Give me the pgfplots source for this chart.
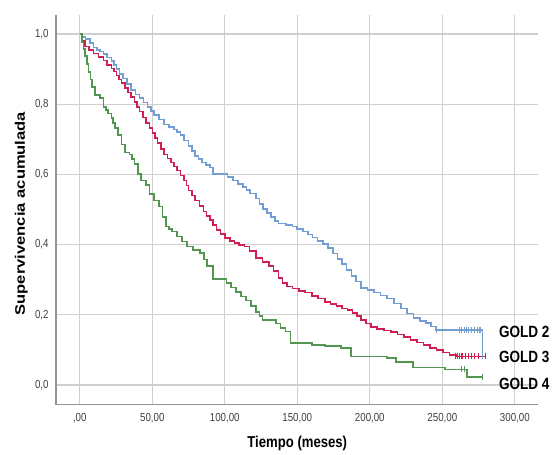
\documentclass[border=0pt]{standalone}
\usepackage{graphicx}
\usepackage{pgfplots}
\pgfplotsset{compat=1.18}
\usepackage{fontspec}
\setmainfont{Liberation Sans}

\definecolor{gold2}{RGB}{115,158,212}
\definecolor{gold3}{RGB}{208,32,82}
\definecolor{gold4}{RGB}{82,150,82}
% the source picture is stretched vertically by about 1.2
\newcommand{\vs}[1]{\scalebox{1}[1.2]{#1}}
\newcommand{\hs}[1]{\scalebox{1.2}[1]{#1}}

\begin{document}
\begin{tikzpicture}
\begin{axis}[
    scale only axis,
    width=352.8pt, height=285.1pt,
    xmin=-16.3, xmax=316.3,
    ymin=-0.056, ymax=1.055,
    xtick={0,50,100,150,200,250,300},
    xticklabels={{\vs{,00}},{\vs{50,00}},{\vs{100,00}},{\vs{150,00}},{\vs{200,00}},{\vs{250,00}},{\vs{300,00}}},
    ytick={0,0.2,0.4,0.6,0.8,1.0},
    yticklabels={{\vs{0,0}},{\vs{0,2}},{\vs{0,4}},{\vs{0,6}},{\vs{0,8}},{\vs{1,0}}},
    grid=major,
    grid style={color=gray!38, line width=0.9pt},
    axis x line*=bottom, axis y line*=left,
    axis line style={-, color=gray!85, line width=0.9pt},
    major tick length=0pt,
    tick label style={font=\fontsize{7.1}{8}\selectfont, color=black!75},
    xticklabel style={yshift=-3pt},
    yticklabel style={xshift=-2pt},
    xlabel={\vs{\textbf{Tiempo (meses)}}},
    ylabel={\hs{\textbf{Supervivencia acumulada}}},
    x label style={at={(axis description cs:0.5,-0.0985)}, anchor=center, font=\fontsize{9.6}{11}\selectfont},
    y label style={at={(axis description cs:-0.072,0.49)}, anchor=center, font=\fontsize{10.1}{12}\selectfont},
    clip=false,
]
% GOLD 2
\addplot[const plot mark left, color=gold2, line width=1.2pt] coordinates {
(0,1.000) (2,0.992) (4,0.985) (7,0.975) (9.5,0.962) (12,0.955) (14,0.950)
(16.3,0.943) (19,0.933) (21.9,0.924) (23.5,0.912) (25.3,0.901) (27.5,0.887)
(29.9,0.873) (32.5,0.857) (35.5,0.840) (38.5,0.828) (41.2,0.817) (44,0.805)
(46.8,0.793) (49,0.781) (51.4,0.770) (54.8,0.756) (58.2,0.742) (61.5,0.735)
(65.0,0.728) (67,0.720) (69.4,0.713) (72,0.697) (75.1,0.681) (77.5,0.667)
(79.6,0.653) (82,0.643) (84.2,0.634) (87,0.627) (89.8,0.620) (92.1,0.601)
(102,0.592) (105.7,0.583) (109,0.572) (112.5,0.564) (115,0.556) (117.5,0.546)
(121.5,0.531) (124,0.515) (126.2,0.502) (129,0.490) (132,0.478) (134.5,0.468)
(137.1,0.460) (142,0.455) (146.6,0.451) (150,0.445) (154,0.437) (157.5,0.429)
(160.5,0.420) (164,0.410) (167.7,0.401) (171,0.390) (174.5,0.375) (177.8,0.359)
(181,0.345) (184,0.328) (187.3,0.311) (190.5,0.295) (194.1,0.277) (198.5,0.270)
(203.0,0.263) (207.5,0.255) (211.8,0.246) (216.5,0.232) (221.3,0.218) (225.5,0.204)
(230.1,0.190) (234.5,0.183) (238.9,0.176) (242,0.166) (245.7,0.156) (277.6,0.081)
};
% GOLD 3
\addplot[const plot mark left, color=gold3, line width=1.2pt] coordinates {
(0,1.000) (2,0.980) (3.8,0.965) (6.5,0.955) (9.5,0.945) (13,0.935) (16.3,0.925)
(19,0.912) (21.9,0.902) (23.5,0.893) (25.3,0.882) (27,0.870) (28.7,0.860)
(31,0.846) (33.3,0.833) (35.5,0.820) (37.8,0.807) (39.5,0.793) (41.2,0.779)
(43.5,0.762) (45.7,0.746) (48,0.732) (50.2,0.718) (52,0.704) (53.6,0.690)
(56,0.673) (58.2,0.657) (60.5,0.645) (62.7,0.634) (65,0.622) (67.2,0.611)
(69.5,0.597) (71.7,0.583) (73.5,0.568) (75.1,0.554) (77.5,0.540) (79.6,0.526)
(82.5,0.510) (85.3,0.494) (87.5,0.482) (89.8,0.470) (92,0.456) (94.3,0.442)
(97,0.430) (100,0.419) (103.5,0.411) (106.8,0.404) (110,0.399) (113.6,0.395)
(117,0.382) (121.5,0.362) (126,0.350) (130.3,0.339) (133.5,0.325) (137,0.305)
(139.8,0.290) (143,0.280) (146.6,0.275) (151,0.268) (155.4,0.263) (160,0.254)
(164.3,0.246) (169,0.236) (173,0.230) (177,0.225) (181,0.218) (184.6,0.213)
(188,0.205) (191,0.196) (194,0.185) (197.5,0.175) (200.9,0.165) (205,0.160)
(210,0.155) (214.5,0.151) (219,0.144) (223.5,0.136) (228.1,0.128) (232.5,0.121)
(237,0.114) (241.6,0.106) (246,0.099) (250.5,0.092) (255,0.086) (259.3,0.081)
(279.6,0.081)
};
% GOLD 4
\addplot[const plot mark left, color=gold4, line width=1.2pt] coordinates {
(0,1.000) (1.6,0.976) (2.7,0.957) (3.8,0.938) (5,0.915) (6.1,0.892) (7.3,0.870)
(8.4,0.849) (10.6,0.826) (14.0,0.817) (16.3,0.793) (18,0.783) (19.7,0.774)
(21.9,0.760) (23,0.746) (24.2,0.732) (26.5,0.713) (28.7,0.685) (31.0,0.662)
(34.4,0.657) (36,0.643) (37.8,0.629) (40.0,0.601) (42.3,0.583) (45.7,0.569)
(48.0,0.545) (51.4,0.526) (54.8,0.508) (57.0,0.479) (59.3,0.451) (61.5,0.444)
(63.8,0.437) (67.2,0.423) (70.6,0.409) (74.0,0.395) (78,0.385) (83,0.376)
(85.5,0.357) (87.6,0.339) (92.1,0.302) (101.1,0.290) (104.5,0.278) (107.9,0.264)
(111,0.252) (114.7,0.241) (118,0.225) (121.5,0.208) (124,0.196) (126,0.185)
(135.1,0.175) (138.5,0.163) (141.9,0.152) (145.3,0.119) (160,0.114) (169,0.110)
(180.3,0.105) (187.1,0.081) (212,0.077) (218,0.065) (230,0.050) (252,0.044)
(267,0.022) (277.6,0.022)
};
% censored cases
\addplot[only marks, mark=|, mark size=2.2pt, color=gold2, line width=0.8pt] coordinates {
(246,0.156) (262,0.156) (263.5,0.156) (265,0.156) (266.5,0.156) (268,0.156)
(270,0.156) (272,0.156) (274,0.156) (276,0.156) (277.6,0.081)
};
\addplot[only marks, mark=|, mark size=2.2pt, color=gold3, line width=0.8pt] coordinates {
(259,0.081) (260.5,0.081) (262,0.081) (263,0.081) (264,0.081) (266,0.081)
(268,0.081) (270,0.081) (272,0.081) (275,0.081) (279.6,0.081)
};
\addplot[only marks, mark=|, mark size=2.2pt, color=gold4, line width=0.8pt] coordinates {
(263,0.044) (265,0.044) (277.6,0.022)
};
\node[anchor=west, font=\fontsize{9.9}{11}\selectfont\bfseries] at (axis cs:285.8,0.152) {\vs{GOLD 2}};
\node[anchor=west, font=\fontsize{9.9}{11}\selectfont\bfseries] at (axis cs:285.8,0.081) {\vs{GOLD 3}};
\node[anchor=west, font=\fontsize{9.9}{11}\selectfont\bfseries] at (axis cs:285.8,0.002) {\vs{GOLD 4}};
\end{axis}
\path (current axis.south west) ++(-41.04pt,-33.12pt);
\path (current axis.north east) ++(5.04pt,10.8pt);
\end{tikzpicture}
\end{document}
